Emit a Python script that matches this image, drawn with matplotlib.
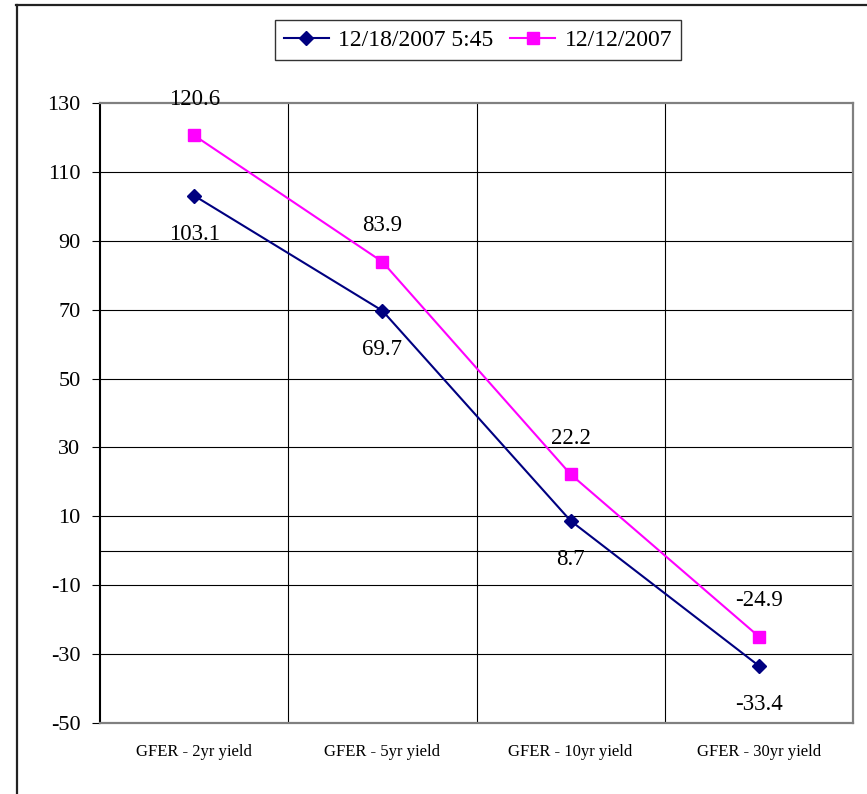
import matplotlib
matplotlib.use("Agg")
import matplotlib.pyplot as plt
from matplotlib.lines import Line2D

categories = ["GFER - 2yr yield", "GFER - 5yr yield", "GFER - 10yr yield", "GFER - 30yr yield"]
series1_name = "12/18/2007 5:45"
series1 = [103.1, 69.7, 8.7, -33.4]
series2_name = "12/12/2007"
series2 = [120.6, 83.9, 22.2, -24.9]
yticks = [-50, -30, -10, 10, 30, 50, 70, 90, 110, 130]

plt.rcParams['font.family'] = ['Liberation Serif', 'DejaVu Serif']

W, H = 867, 794
fig = plt.figure(figsize=(W / 100, H / 100), dpi=100)
ax = fig.add_axes([100 / W, (H - 723) / H, 753 / W, 620 / H])

x = list(range(len(categories)))
ax.set_xlim(-0.5, len(categories) - 0.5)
ax.set_ylim(-50, 130)

# grid
for t in yticks[1:-1]:
    ax.axhline(t, color='black', lw=0.8, zorder=1)
ax.axhline(0, color='black', lw=0.8, zorder=1)
for b in [0.5, 1.5, 2.5]:
    ax.axvline(b, color='black', lw=0.8, zorder=1)

l1, = ax.plot(x, series1, color='#000080', lw=1.5, marker='D', markersize=7,
              markerfacecolor='#000080', markeredgecolor='#000080', zorder=3,
              label=series1_name)
l2, = ax.plot(x, series2, color='#FF00FF', lw=1.5, marker='s', markersize=8,
              markerfacecolor='#FF00FF', markeredgecolor='#FF00FF', zorder=3,
              label=series2_name)

for xi, v in zip(x, series1):
    ax.annotate(f"{v}", (xi, v), xytext=(0, -28), textcoords='offset points',
                ha='center', va='center', fontsize=16.5, zorder=4)
for xi, v in zip(x, series2):
    ax.annotate(f"{v}", (xi, v), xytext=(0, 26), textcoords='offset points',
                ha='center', va='center', fontsize=16.5, zorder=4, annotation_clip=False)

ax.set_yticks(yticks)
ax.set_yticklabels([str(t) for t in yticks], fontsize=16)
ax.tick_params(axis='y', direction='out', length=6, width=0.8, pad=8, color='black')
ax.set_xticks(x)
ax.set_xticklabels(categories, fontsize=12)
ax.tick_params(axis='x', length=0, pad=15)

for s in ['top', 'right', 'bottom']:
    ax.spines[s].set_color('#808080')
    ax.spines[s].set_linewidth(1.6)
ax.spines['left'].set_color('black')
ax.spines['left'].set_linewidth(1.5)

leg = fig.legend(handles=[l1, l2], loc='center', bbox_to_anchor=(478 / W, 1 - 40 / H),
                 ncol=2, fontsize=17, frameon=True, fancybox=False, edgecolor='black',
                 handlelength=1.9, columnspacing=0.7, handletextpad=0.4,
                 borderpad=0.4)
leg.get_frame().set_linewidth(1.0)

# outer chart border
fig.add_artist(Line2D([16.5 / W, 16.5 / W], [0, 1 - 5 / H], color='#222222', lw=1.6))
fig.add_artist(Line2D([16 / W, 1], [1 - 5 / H, 1 - 5 / H], color='#222222', lw=1.6))

fig.savefig("out.png", dpi=100)
